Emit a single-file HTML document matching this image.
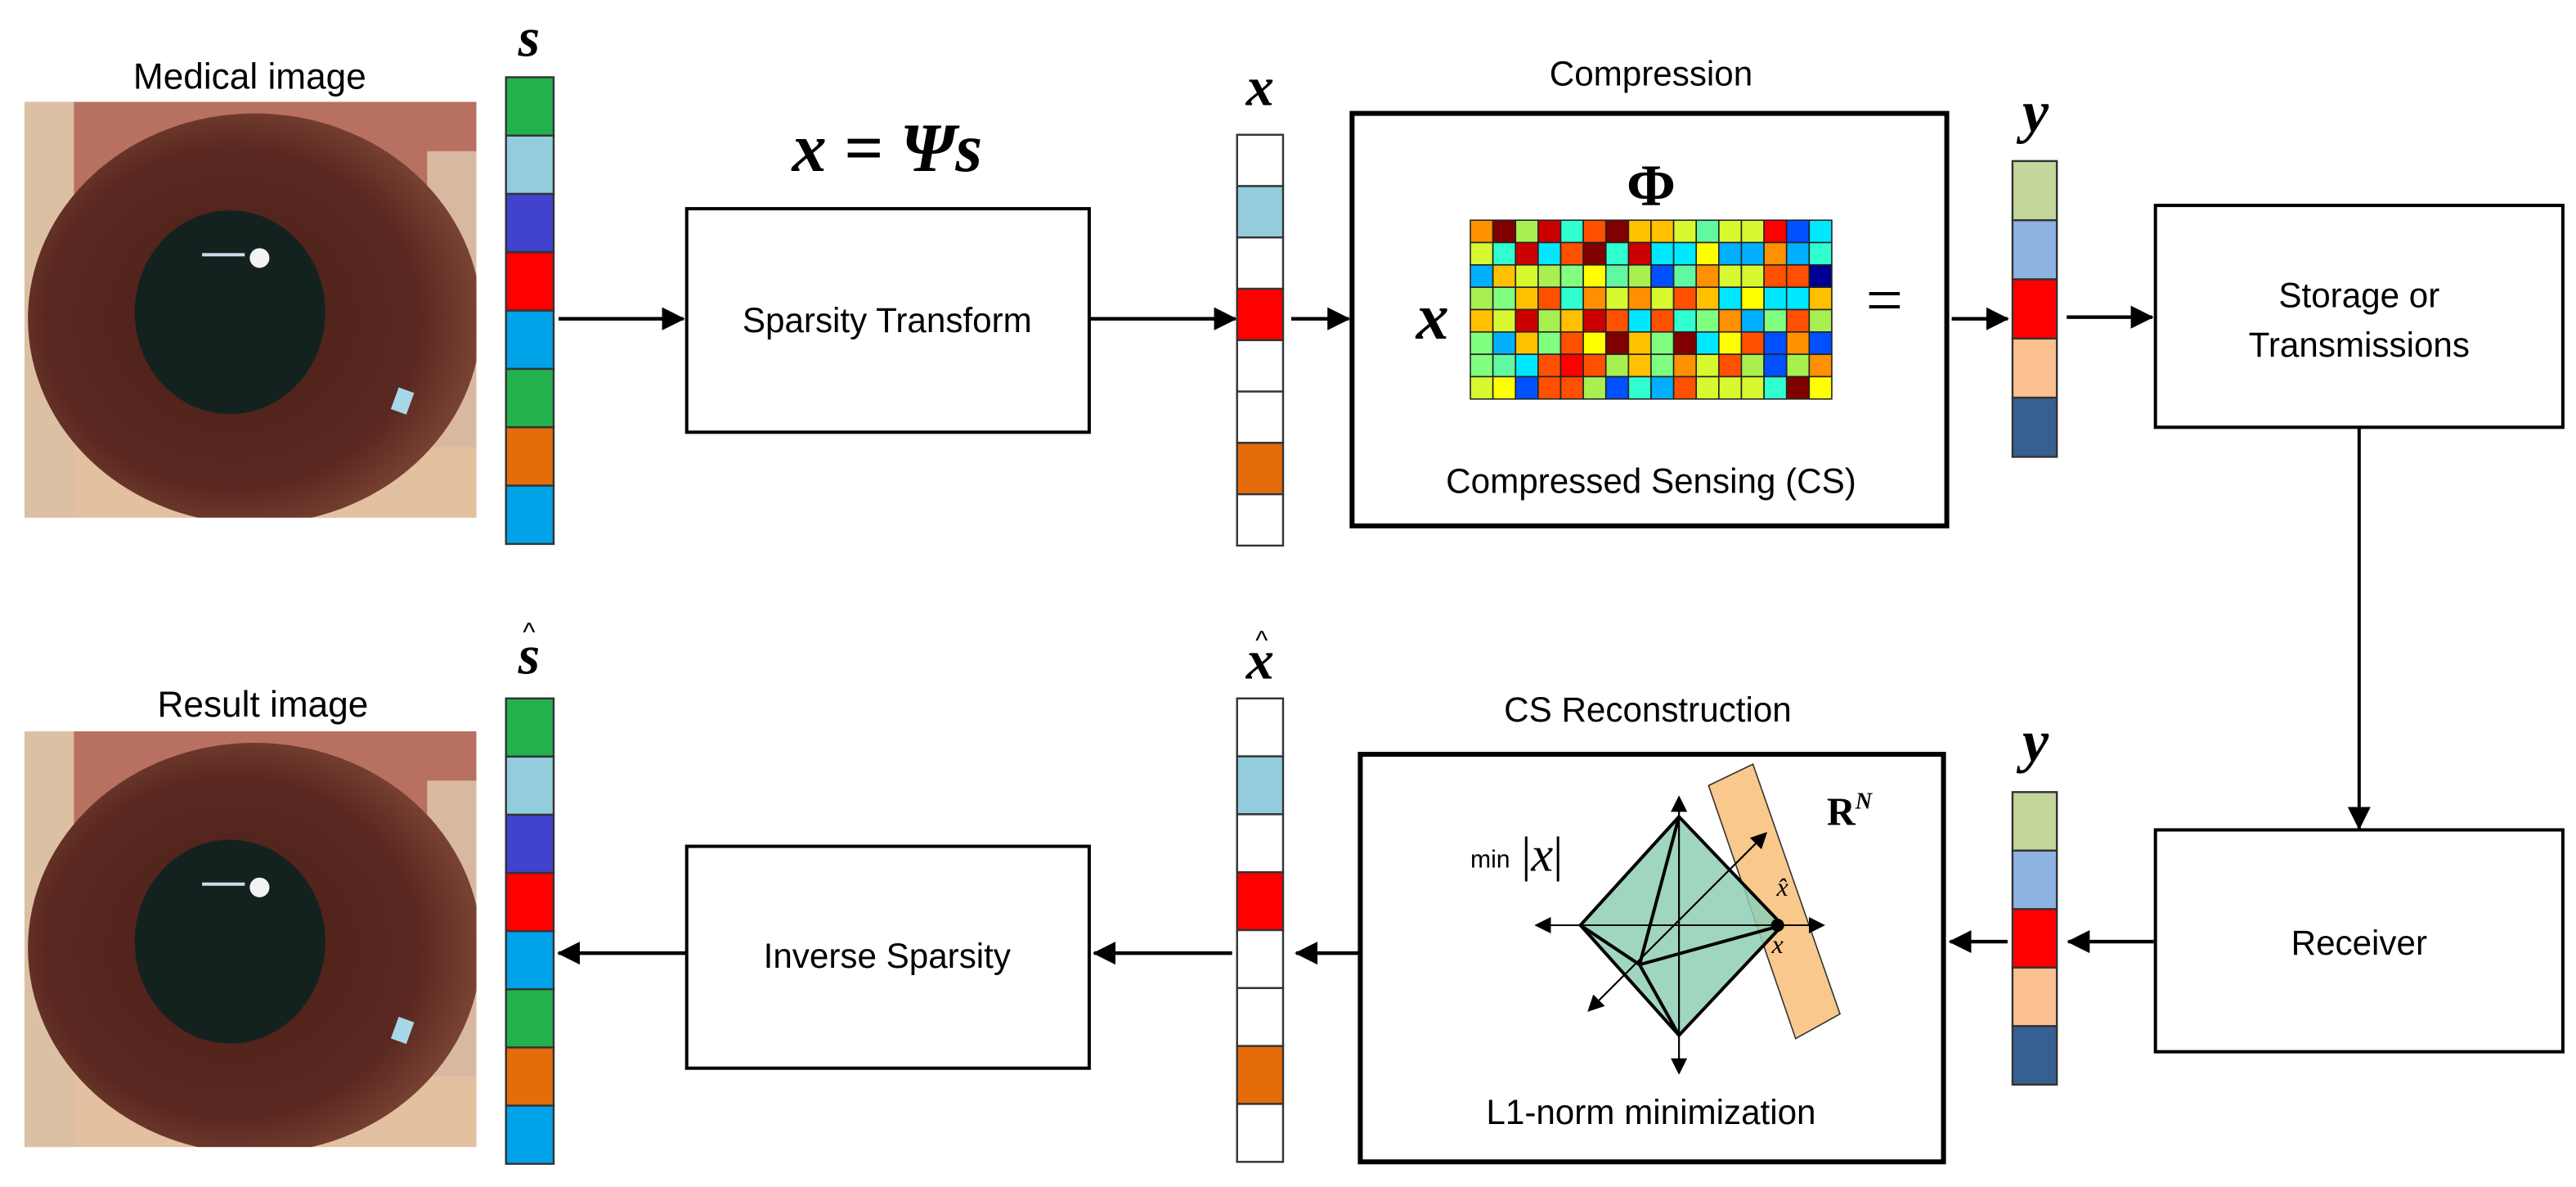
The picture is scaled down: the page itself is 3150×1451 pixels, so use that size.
<!DOCTYPE html>
<html><head><meta charset="utf-8"><style>
html,body{margin:0;padding:0;background:#fff}
svg{display:block}
.t{font-family:"Liberation Sans",sans-serif;fill:#000}
.m{font-family:"Liberation Serif",serif;font-style:italic;font-weight:bold;fill:#000}
.box{fill:#fff;stroke:#000;stroke-width:2}
.vec rect{stroke:#333;stroke-width:1.2}
.O{fill:#ff9000}.DR{fill:#800000}.LG{fill:#a8f050}.R{fill:#cc0000}.AQ{fill:#30ffd0}.OR{fill:#ff5000}.AM{fill:#ffc000}.YG{fill:#d8f830}.MT{fill:#60f8a0}.RD{fill:#ff0000}.BL{fill:#0050ff}.CY{fill:#00e8ff}.YE{fill:#ffff00}.SB{fill:#00b0ff}.MG{fill:#80ff80}.NV{fill:#000090}
.mx rect{stroke:#222;stroke-width:0.8;width:13.75px;height:13.6px}
</style></head><body>
<svg width="3150" height="1451" viewBox="0 0 1568 722.3" preserveAspectRatio="none" xmlns="http://www.w3.org/2000/svg">
<defs>
<marker id="ah" markerWidth="10" markerHeight="10" refX="9" refY="5" orient="auto" markerUnits="userSpaceOnUse"><path d="M0,0 L10,5 L0,10 z" fill="#000"/></marker>
<marker id="ah2" markerWidth="14" markerHeight="14" refX="13" refY="7" orient="auto" markerUnits="userSpaceOnUse"><path d="M0,0 L14,7 L0,14 z" fill="#000"/></marker>
<radialGradient id="iris" cx="0.45" cy="0.5" r="0.55"><stop offset="0" stop-color="#4a2018"/><stop offset="0.75" stop-color="#5a2820"/><stop offset="1" stop-color="#7a4434"/></radialGradient>
<clipPath id="ec"><rect x="0" y="0" width="275" height="253"/></clipPath>
<g id="eye">
<g clip-path="url(#ec)">
<rect x="0" y="0" width="275" height="253" fill="#b87060"/>
<rect x="0" y="190" width="275" height="63" fill="#e2c0a0"/>
<rect x="0" y="0" width="30" height="253" fill="#dcc0a4"/>
<rect x="245" y="30" width="30" height="180" fill="#d8b8a0"/>
<ellipse cx="140" cy="132" rx="138" ry="125" fill="url(#iris)"/>
<ellipse cx="125" cy="128" rx="58" ry="62" fill="#14221f"/>
<circle cx="143" cy="95" r="6" fill="#fff" opacity="0.95"/>
<rect x="108" y="92" width="26" height="2" fill="#cde"/>
<rect x="225" y="175" width="10" height="14" fill="#a8d8e8" transform="rotate(20 230 182)"/>
</g>
</g>
</defs>

<!-- top row -->
<text class="t" x="152" y="54" font-size="22" text-anchor="middle">Medical image</text>
<use href="#eye" x="15" y="62"/>
<text class="m" x="322" y="34" font-size="34" text-anchor="middle">s</text>
<g class="vec">
<rect x="308" y="47" width="29" height="35.5" fill="#22b14c"/>
<rect x="308" y="82.5" width="29" height="35.5" fill="#93cddd"/>
<rect x="308" y="118" width="29" height="35.5" fill="#4043cc"/>
<rect x="308" y="153.5" width="29" height="35.5" fill="#ff0000"/>
<rect x="308" y="189" width="29" height="35.5" fill="#00a2e8"/>
<rect x="308" y="224.5" width="29" height="35.5" fill="#22b14c"/>
<rect x="308" y="260" width="29" height="35.5" fill="#e46c0a"/>
<rect x="308" y="295.5" width="29" height="35.5" fill="#00a2e8"/>
</g>
<line x1="340" y1="194" x2="416" y2="194" stroke="#000" stroke-width="2.2" marker-end="url(#ah2)"/>
<text class="m" x="540" y="104" font-size="42" text-anchor="middle">x = Ψs</text>
<rect class="box" x="418" y="127" width="245" height="136"/>
<text class="t" x="540" y="202" font-size="21" text-anchor="middle">Sparsity Transform</text>
<line x1="663" y1="194" x2="752" y2="194" stroke="#000" stroke-width="2.2" marker-end="url(#ah2)"/>
<text class="m" x="767" y="64" font-size="34" text-anchor="middle">x</text>
<g class="vec">
<rect x="753" y="82" width="28" height="31.25" fill="#fff"/>
<rect x="753" y="113.25" width="28" height="31.25" fill="#93cddd"/>
<rect x="753" y="144.5" width="28" height="31.25" fill="#fff"/>
<rect x="753" y="175.75" width="28" height="31.25" fill="#ff0000"/>
<rect x="753" y="207" width="28" height="31.25" fill="#fff"/>
<rect x="753" y="238.25" width="28" height="31.25" fill="#fff"/>
<rect x="753" y="269.5" width="28" height="31.25" fill="#e46c0a"/>
<rect x="753" y="300.75" width="28" height="31.25" fill="#fff"/>
</g>
<line x1="786" y1="194" x2="821" y2="194" stroke="#000" stroke-width="2.2" marker-end="url(#ah2)"/>
<text class="t" x="1005" y="52" font-size="21" text-anchor="middle">Compression</text>
<rect x="823" y="69" width="362" height="251" fill="#fff" stroke="#000" stroke-width="3"/>
<text class="m" x="1005" y="125" font-size="36" text-anchor="middle" style="font-style:normal">Φ</text>
<text class="m" x="872" y="206" font-size="40" text-anchor="middle">x</text>
<text class="t" x="1147" y="196" font-size="40" text-anchor="middle" style="font-family:'Liberation Serif',serif">=</text>
<text class="t" x="1005" y="300" font-size="21" text-anchor="middle">Compressed Sensing (CS)</text>
<g class="mx" transform="translate(895,134)">
<g><rect x="0" class="O"/><rect x="13.75" class="DR"/><rect x="27.5" class="LG"/><rect x="41.25" class="R"/><rect x="55" class="AQ"/><rect x="68.75" class="OR"/><rect x="82.5" class="DR"/><rect x="96.25" class="AM"/><rect x="110" class="AM"/><rect x="123.75" class="YG"/><rect x="137.5" class="MT"/><rect x="151.25" class="YG"/><rect x="165" class="YG"/><rect x="178.75" class="RD"/><rect x="192.5" class="BL"/><rect x="206.25" class="CY"/></g>
<g transform="translate(0,13.6)"><rect x="0" class="YG"/><rect x="13.75" class="AQ"/><rect x="27.5" class="R"/><rect x="41.25" class="CY"/><rect x="55" class="OR"/><rect x="68.75" class="DR"/><rect x="82.5" class="AQ"/><rect x="96.25" class="R"/><rect x="110" class="CY"/><rect x="123.75" class="CY"/><rect x="137.5" class="YE"/><rect x="151.25" class="SB"/><rect x="165" class="SB"/><rect x="178.75" class="O"/><rect x="192.5" class="SB"/><rect x="206.25" class="AQ"/></g>
<g transform="translate(0,27.2)"><rect x="0" class="SB"/><rect x="13.75" class="AM"/><rect x="27.5" class="YG"/><rect x="41.25" class="LG"/><rect x="55" class="MG"/><rect x="68.75" class="YE"/><rect x="82.5" class="MT"/><rect x="96.25" class="LG"/><rect x="110" class="BL"/><rect x="123.75" class="MT"/><rect x="137.5" class="O"/><rect x="151.25" class="YG"/><rect x="165" class="YG"/><rect x="178.75" class="OR"/><rect x="192.5" class="OR"/><rect x="206.25" class="NV"/></g>
<g transform="translate(0,40.8)"><rect x="0" class="LG"/><rect x="13.75" class="MG"/><rect x="27.5" class="AM"/><rect x="41.25" class="OR"/><rect x="55" class="AQ"/><rect x="68.75" class="O"/><rect x="82.5" class="YG"/><rect x="96.25" class="O"/><rect x="110" class="YG"/><rect x="123.75" class="OR"/><rect x="137.5" class="AM"/><rect x="151.25" class="CY"/><rect x="165" class="YE"/><rect x="178.75" class="CY"/><rect x="192.5" class="CY"/><rect x="206.25" class="AM"/></g>
<g transform="translate(0,54.4)"><rect x="0" class="AM"/><rect x="13.75" class="YG"/><rect x="27.5" class="R"/><rect x="41.25" class="LG"/><rect x="55" class="AM"/><rect x="68.75" class="R"/><rect x="82.5" class="OR"/><rect x="96.25" class="CY"/><rect x="110" class="OR"/><rect x="123.75" class="AQ"/><rect x="137.5" class="MG"/><rect x="151.25" class="O"/><rect x="165" class="SB"/><rect x="178.75" class="MG"/><rect x="192.5" class="OR"/><rect x="206.25" class="LG"/></g>
<g transform="translate(0,68)"><rect x="0" class="MG"/><rect x="13.75" class="SB"/><rect x="27.5" class="AM"/><rect x="41.25" class="MG"/><rect x="55" class="OR"/><rect x="68.75" class="YE"/><rect x="82.5" class="DR"/><rect x="96.25" class="AM"/><rect x="110" class="MG"/><rect x="123.75" class="DR"/><rect x="137.5" class="CY"/><rect x="151.25" class="YE"/><rect x="165" class="OR"/><rect x="178.75" class="BL"/><rect x="192.5" class="O"/><rect x="206.25" class="BL"/></g>
<g transform="translate(0,81.6)"><rect x="0" class="MG"/><rect x="13.75" class="MT"/><rect x="27.5" class="CY"/><rect x="41.25" class="OR"/><rect x="55" class="RD"/><rect x="68.75" class="OR"/><rect x="82.5" class="LG"/><rect x="96.25" class="AM"/><rect x="110" class="MG"/><rect x="123.75" class="O"/><rect x="137.5" class="YG"/><rect x="151.25" class="OR"/><rect x="165" class="LG"/><rect x="178.75" class="BL"/><rect x="192.5" class="LG"/><rect x="206.25" class="O"/></g>
<g transform="translate(0,95.2)"><rect x="0" class="YG"/><rect x="13.75" class="YE"/><rect x="27.5" class="BL"/><rect x="41.25" class="OR"/><rect x="55" class="OR"/><rect x="68.75" class="LG"/><rect x="82.5" class="BL"/><rect x="96.25" class="AQ"/><rect x="110" class="SB"/><rect x="123.75" class="OR"/><rect x="137.5" class="YG"/><rect x="151.25" class="YG"/><rect x="165" class="YG"/><rect x="178.75" class="AQ"/><rect x="192.5" class="DR"/><rect x="206.25" class="YE"/></g>
</g>
<line x1="1188" y1="194" x2="1222" y2="194" stroke="#000" stroke-width="2.2" marker-end="url(#ah2)"/>
<text class="m" x="1239" y="80" font-size="36" text-anchor="middle">y</text>
<g class="vec">
<rect x="1225" y="98" width="27" height="36" fill="#c3d69b"/>
<rect x="1225" y="134" width="27" height="36" fill="#8db3e2"/>
<rect x="1225" y="170" width="27" height="36" fill="#ff0000"/>
<rect x="1225" y="206" width="27" height="36" fill="#fac090"/>
<rect x="1225" y="242" width="27" height="36" fill="#376092"/>
</g>
<line x1="1258" y1="193" x2="1310" y2="193" stroke="#000" stroke-width="2.2" marker-end="url(#ah2)"/>
<rect class="box" x="1312" y="125" width="248" height="135"/>
<text class="t" x="1436" y="187" font-size="21" text-anchor="middle">Storage or</text>
<text class="t" x="1436" y="217" font-size="21" text-anchor="middle">Transmissions</text>
<line x1="1436" y1="260" x2="1436" y2="504" stroke="#000" stroke-width="2" marker-end="url(#ah2)"/>

<!-- bottom row -->
<rect class="box" x="1312" y="505" width="248" height="135"/>
<text class="t" x="1436" y="581" font-size="21" text-anchor="middle">Receiver</text>
<line x1="1311" y1="573" x2="1259" y2="573" stroke="#000" stroke-width="2.2" marker-end="url(#ah2)"/>
<text class="m" x="1239" y="463" font-size="36" text-anchor="middle">y</text>
<g class="vec">
<rect x="1225" y="482" width="27" height="35.6" fill="#c3d69b"/>
<rect x="1225" y="517.6" width="27" height="35.6" fill="#8db3e2"/>
<rect x="1225" y="553.2" width="27" height="35.6" fill="#ff0000"/>
<rect x="1225" y="588.8" width="27" height="35.6" fill="#fac090"/>
<rect x="1225" y="624.4" width="27" height="35.6" fill="#376092"/>
</g>
<line x1="1222" y1="573" x2="1187" y2="573" stroke="#000" stroke-width="2.2" marker-end="url(#ah2)"/>
<text class="t" x="1003" y="439" font-size="21" text-anchor="middle">CS Reconstruction</text>
<rect x="828" y="459" width="355" height="248" fill="#fff" stroke="#000" stroke-width="3"/>
<!-- L1 diagram -->
<polygon points="1040,478 1067,465 1120,617 1093,632" fill="#f9c88c" stroke="#333" stroke-width="0.8"/>
<polygon points="1022,497 962,563 1022,630 1085,563" fill="#8fcfb5" fill-opacity="0.85" stroke="#000" stroke-width="2"/>
<line x1="1022" y1="497" x2="998" y2="587" stroke="#000" stroke-width="2"/>
<line x1="962" y1="563" x2="998" y2="587" stroke="#000" stroke-width="2"/>
<line x1="1022" y1="630" x2="998" y2="587" stroke="#000" stroke-width="2"/>
<line x1="1085" y1="563" x2="998" y2="587" stroke="#000" stroke-width="2"/>
<line x1="935" y1="563" x2="1110" y2="563" stroke="#000" stroke-width="1" marker-end="url(#ah)"/>
<line x1="1110" y1="563" x2="935" y2="563" stroke="#000" stroke-width="1" marker-end="url(#ah)"/>
<line x1="1022" y1="653" x2="1022" y2="485" stroke="#000" stroke-width="1" marker-end="url(#ah)"/>
<line x1="1022" y1="485" x2="1022" y2="653" stroke="#000" stroke-width="1" marker-end="url(#ah)"/>
<line x1="967" y1="615" x2="1075" y2="507" stroke="#000" stroke-width="1" marker-end="url(#ah)"/>
<line x1="1075" y1="507" x2="967" y2="615" stroke="#000" stroke-width="1" marker-end="url(#ah)"/>
<circle cx="1082" cy="563" r="4" fill="#000"/>
<text class="t" x="895" y="528" font-size="15">min</text>
<text class="t" x="926" y="530" font-size="30" style="font-family:'Liberation Serif',serif">|<tspan font-style="italic">x</tspan>|</text>
<text x="1112" y="502" font-size="24" font-weight="bold" style="font-family:'Liberation Serif',serif">R<tspan font-size="14" font-style="italic" dy="-10">N</tspan></text>
<text x="1085" y="545" font-size="16" font-style="italic" text-anchor="middle" style="font-family:'Liberation Serif',serif">x̂</text>
<text x="1082" y="580" font-size="16" font-style="italic" text-anchor="middle" style="font-family:'Liberation Serif',serif">x</text>
<text class="t" x="1005" y="684" font-size="21" text-anchor="middle">L1-norm minimization</text>
<line x1="827" y1="580" x2="789" y2="580" stroke="#000" stroke-width="2.2" marker-end="url(#ah2)"/>
<text class="m" x="767" y="413" font-size="34" text-anchor="middle">x</text>
<text class="t" x="768" y="395" font-size="16" text-anchor="middle">^</text>
<g class="vec">
<rect x="753" y="425" width="28" height="35.25" fill="#fff"/>
<rect x="753" y="460.25" width="28" height="35.25" fill="#93cddd"/>
<rect x="753" y="495.5" width="28" height="35.25" fill="#fff"/>
<rect x="753" y="530.75" width="28" height="35.25" fill="#ff0000"/>
<rect x="753" y="566" width="28" height="35.25" fill="#fff"/>
<rect x="753" y="601.25" width="28" height="35.25" fill="#fff"/>
<rect x="753" y="636.5" width="28" height="35.25" fill="#e46c0a"/>
<rect x="753" y="671.75" width="28" height="35.25" fill="#fff"/>
</g>
<line x1="750" y1="580" x2="666" y2="580" stroke="#000" stroke-width="2.2" marker-end="url(#ah2)"/>
<rect class="box" x="418" y="515" width="245" height="135"/>
<text class="t" x="540" y="589" font-size="21" text-anchor="middle">Inverse Sparsity</text>
<line x1="418" y1="580" x2="340" y2="580" stroke="#000" stroke-width="2.2" marker-end="url(#ah2)"/>
<text class="m" x="322" y="410" font-size="34" text-anchor="middle">s</text>
<text class="t" x="322" y="390" font-size="16" text-anchor="middle">^</text>
<g class="vec">
<rect x="308" y="425" width="29" height="35.4" fill="#22b14c"/>
<rect x="308" y="460.4" width="29" height="35.4" fill="#93cddd"/>
<rect x="308" y="495.8" width="29" height="35.4" fill="#4043cc"/>
<rect x="308" y="531.2" width="29" height="35.4" fill="#ff0000"/>
<rect x="308" y="566.6" width="29" height="35.4" fill="#00a2e8"/>
<rect x="308" y="602" width="29" height="35.4" fill="#22b14c"/>
<rect x="308" y="637.4" width="29" height="35.4" fill="#e46c0a"/>
<rect x="308" y="672.8" width="29" height="35.4" fill="#00a2e8"/>
</g>
<text class="t" x="160" y="436" font-size="22" text-anchor="middle">Result image</text>
<use href="#eye" x="15" y="445"/>
</svg>
</body></html>
